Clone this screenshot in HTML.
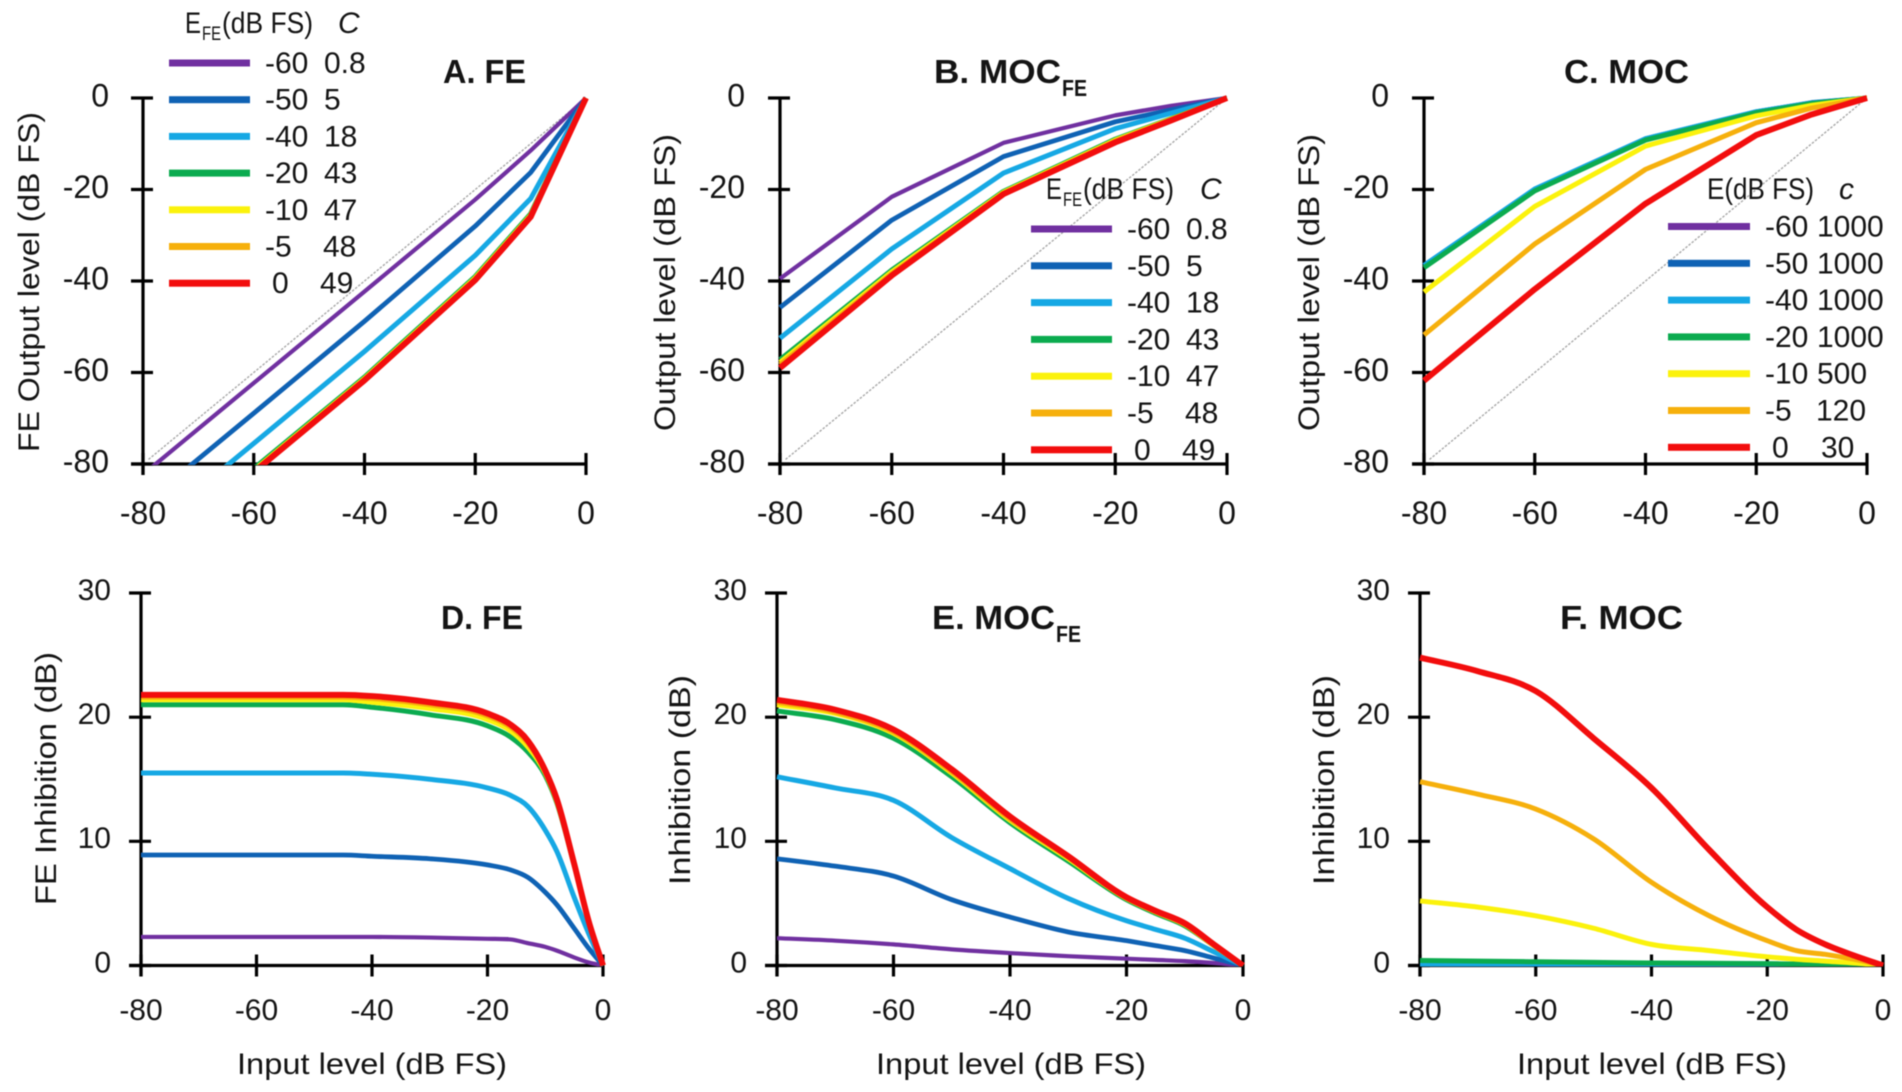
<!DOCTYPE html>
<html lang="en">
<head>
<meta charset="utf-8">
<title>FE and MOC input-output and inhibition curves</title>
<style>
html,body{margin:0;padding:0;background:#fff;}
#figure{display:block;width:1902px;height:1092px;font-family:"Liberation Sans",sans-serif;filter:blur(0.45px);}
text{fill:#141414;}
</style>
</head>
<body>
<svg id="figure" xmlns="http://www.w3.org/2000/svg" width="1902" height="1092" viewBox="0 0 1902 1092"></svg>
<script>
// ---- shared data ----
const outputTicks = [0, -20, -40, -60, -80];
const inhibitionTicks = [30, 20, 10, 0];
const inputTicks = [-80, -60, -40, -20, 0];
const energyLabels = ['-60', '-50', '-40', '-20', '-10', '-5', '0'];
const seriesKeys = ['e-60', 'e-50', 'e-40', 'e-20', 'e-10', 'e-5', 'e-0'];
const feConstants = ['0.8', '5', '18', '43', '47', '48', '49'];
const mocConstants = ['1000', '1000', '1000', '1000', '500', '120', '30'];

// ---- panel A: FE output ----
const inputA = [-80, -60, -40, -20, -10, 0];
const aMinus60 = [-82.3, -62.3, -42.3, -22.2, -11.5, 0];
const aMinus50 = [-88.9, -68.9, -48.8, -28, -16.3, 0];
const aMinus40 = [-95.5, -75.5, -55.4, -34.4, -22, 0];
const aMinus20 = [-101, -81, -61, -39, -25.3, 0];
const aMinus10 = [-101.4, -81.4, -61.3, -39.3, -25.6, 0];
const aMinus5 = [-101.6, -81.6, -61.5, -39.5, -25.8, 0];
const aZero = [-101.8, -81.8, -61.7, -39.8, -26, 0];

// ---- panel B: MOC-FE output ----
const inputB = [-80, -60, -40, -20, -10, 0];
const bMinus60 = [-39.5, -21.6, -9.8, -3.8, -1.7, 0];
const bMinus50 = [-45.8, -26.7, -12.8, -5.2, -2.6, 0];
const bMinus40 = [-52.5, -33, -16.4, -6.7, -3.3, 0];
const bMinus20 = [-57.2, -37.6, -20.4, -9, -4.5, 0];
const bMinus10 = [-57.8, -38, -20.6, -9.2, -4.6, 0];
const bMinus5 = [-58.3, -38.4, -20.8, -9.4, -4.7, 0];
const bZero = [-59, -38.8, -21, -9.7, -4.9, 0];

// ---- panel C: MOC output ----
const inputC = [-80, -60, -40, -20, -10, 0];
const cMinus60 = [-36.6, -19.9, -8.9, -3, -1, 0];
const cMinus50 = [-36.6, -19.9, -8.9, -3, -1, 0];
const cMinus40 = [-36.6, -19.9, -8.9, -3, -1.1, 0];
const cMinus20 = [-37.1, -20.3, -9.2, -3.2, -1.2, 0];
const cMinus10 = [-42.4, -23.7, -10.5, -3.9, -1.6, 0];
const cMinus5 = [-51.8, -31.9, -15.6, -5.4, -2.2, 0];
const cZero = [-61.8, -41.8, -23.1, -8.1, -3.6, 0];

// ---- panel D: FE inhibition ----
const inputD = [-80, -60, -45, -40, -30, -20, -16, -13, -10, -8, -5, -2.5, 0];
const dMinus60 = [2.3, 2.3, 2.3, 2.3, 2.25, 2.15, 2.1, 1.8, 1.5, 1.2, 0.65, 0.25, 0];
const dMinus50 = [8.9, 8.9, 8.9, 8.8, 8.6, 8.1, 7.7, 7.1, 5.9, 4.9, 3, 1.4, 0];
const dMinus40 = [15.5, 15.5, 15.5, 15.4, 15, 14.3, 13.7, 12.8, 10.9, 9.2, 5.5, 2.6, 0];
const dMinus20 = [21, 21, 21, 20.8, 20.2, 19.3, 18.4, 17.2, 15.3, 13.1, 8.1, 3.6, 0];
const dMinus10 = [21.4, 21.4, 21.4, 21.2, 20.7, 19.8, 18.9, 17.6, 15.5, 13.2, 8.1, 3.6, 0];
const dMinus5 = [21.6, 21.6, 21.6, 21.5, 21, 20.1, 19.2, 17.9, 15.6, 13.3, 8.2, 3.6, 0];
const dZero = [21.8, 21.8, 21.8, 21.7, 21.2, 20.3, 19.4, 18.1, 15.7, 13.4, 8.2, 3.6, 0];

// ---- panel E: MOC-FE inhibition ----
const inputE = [-80, -70, -60, -50, -40, -30, -20, -15, -10, -5, 0];
const eMinus60 = [2.2, 2, 1.7, 1.3, 1, 0.75, 0.55, 0.45, 0.35, 0.2, 0];
const eMinus50 = [8.6, 8, 7.2, 5.3, 3.9, 2.7, 2, 1.6, 1.2, 0.6, 0];
const eMinus40 = [15.2, 14.3, 13.3, 10.3, 7.8, 5.4, 3.6, 2.9, 2.2, 1.1, 0];
const eMinus20 = [20.5, 19.8, 18.3, 15.2, 11.5, 8.4, 5.3, 4.2, 3.2, 1.6, 0];
const eMinus10 = [21, 20.3, 18.7, 15.5, 11.7, 8.6, 5.4, 4.3, 3.3, 1.6, 0];
const eMinus5 = [21.2, 20.4, 18.8, 15.6, 11.8, 8.7, 5.4, 4.3, 3.3, 1.6, 0];
const eZero = [21.4, 20.6, 19, 15.8, 12, 8.8, 5.5, 4.4, 3.4, 1.7, 0];

// ---- panel F: MOC inhibition ----
const inputF = [-80, -70, -60, -50, -40, -30, -20, -15, -10, -5, 0];
const fMinus60 = [0.05, 0.05, 0.04, 0.04, 0.03, 0.03, 0.02, 0.02, 0.01, 0.01, 0];
const fMinus50 = [0.06, 0.05, 0.05, 0.04, 0.04, 0.03, 0.03, 0.02, 0.01, 0.01, 0];
const fMinus40 = [0.08, 0.07, 0.06, 0.05, 0.05, 0.04, 0.03, 0.02, 0.02, 0.01, 0];
const fMinus20 = [0.4, 0.35, 0.3, 0.25, 0.2, 0.18, 0.15, 0.12, 0.1, 0.05, 0];
const fMinus10 = [5.2, 4.7, 4, 3, 1.7, 1.2, 0.7, 0.5, 0.35, 0.2, 0];
const fMinus5 = [14.8, 13.8, 12.6, 10.2, 6.7, 4, 2, 1.2, 0.9, 0.5, 0];
const fZero = [24.8, 23.7, 22.1, 18.3, 14.3, 9.3, 4.7, 2.9, 1.7, 0.8, 0];

// ---- styling and layout (not data) ----
const seriesColors = ['#7030a0', '#0f62b4', '#16a8e4', '#0bab4f', '#fbf20c', '#f6b00c', '#f20d0d'];
const seriesStrokes = [4.2, 4.8, 5, 5, 5, 5, 6];
const NS = 'http://www.w3.org/2000/svg';
const svg = document.getElementById('figure');

function make(tag, attrs, parent, content) {
  const el = document.createElementNS(NS, tag);
  for (const k in attrs) el.setAttribute(k, attrs[k]);
  if (content !== undefined) el.textContent = content;
  parent.appendChild(el);
  return el;
}
function scaleLinear(d0, d1, r0, r1) {
  return function (v) { return r0 + (v - d0) / (d1 - d0) * (r1 - r0); };
}
function straightPath(px) {
  return px.map(function (p, i) { return (i ? 'L' : 'M') + p[0].toFixed(2) + ' ' + p[1].toFixed(2); }).join('');
}
function smoothPath(px) {
  const n = px.length, s = [], m = [];
  for (let i = 0; i < n - 1; i++) s.push((px[i + 1][1] - px[i][1]) / (px[i + 1][0] - px[i][0]));
  m[0] = s[0]; m[n - 1] = s[n - 2];
  for (let i = 1; i < n - 1; i++) {
    if (s[i - 1] * s[i] <= 0) { m[i] = 0; continue; }
    const h0 = px[i][0] - px[i - 1][0], h1 = px[i + 1][0] - px[i][0];
    const t = (h1 * s[i - 1] + h0 * s[i]) / (h0 + h1);
    const lim = 3 * Math.min(Math.abs(s[i - 1]), Math.abs(s[i]));
    m[i] = Math.sign(t) * Math.min(Math.abs(t), lim);
  }
  let d = 'M' + px[0][0].toFixed(2) + ' ' + px[0][1].toFixed(2);
  for (let i = 0; i < n - 1; i++) {
    const h = (px[i + 1][0] - px[i][0]) / 3;
    d += 'C' + (px[i][0] + h).toFixed(2) + ' ' + (px[i][1] + m[i] * h).toFixed(2) + ' ' +
      (px[i + 1][0] - h).toFixed(2) + ' ' + (px[i + 1][1] - m[i + 1] * h).toFixed(2) + ' ' +
      px[i + 1][0].toFixed(2) + ' ' + px[i + 1][1].toFixed(2);
  }
  return d;
}

function drawPanel(p) {
  const g = make('g', {}, svg);
  
  

  const x = scaleLinear(-80, 0, p.x0, p.x1);
  const y = scaleLinear(p.dMin, p.dMax, p.y0, p.y1);
  const clipId = 'clip-' + p.id;
  const defs = make('defs', {}, g);
  const clip = make('clipPath', { id: clipId }, defs);
  make('rect', { x: p.x0 - 4, y: p.y1 - 6, width: p.x1 - p.x0 + 12, height: p.y0 - p.y1 + 7 }, clip);

  // axes
  const yAxis = make('line', { x1: p.x0, x2: p.x0, y1: p.y1, y2: p.y0 + 11, stroke: '#000', 'stroke-width': 3.2 }, g);
  
  
  const xAxis = make('line', { x1: p.x0 - 12, x2: p.x1, y1: p.y0, y2: p.y0, stroke: '#000', 'stroke-width': 3.2 }, g);
  
  

  p.yTicks.forEach(function (v) {
    const t = make('line', { x1: p.x0 - 12, x2: p.x0 + 10, y1: y(v), y2: y(v), stroke: '#000', 'stroke-width': 3.2 }, g);
    
    
    const lbl = make('text', { x: p.x0 + p.yLabelDx, y: y(v) + p.tickFont * 0.33 - (p.isTop ? 2 : 3), 'text-anchor': 'end', 'font-size': p.tickFont }, g, String(v));
    
    
  });
  inputTicks.forEach(function (v) {
    const t = make('line', { x1: x(v), x2: x(v), y1: p.y0 - 11, y2: p.y0 + 11, stroke: '#000', 'stroke-width': 3.2 }, g);
    
    
    const lbl = make('text', { x: x(v), y: p.xLabelY, 'text-anchor': 'middle', 'font-size': p.tickFont }, g, String(v));
    
    
  });

  // identity reference line
  if (p.isTop) {
    const ref = make('line', { x1: x(-79), y1: y(-79), x2: x(0), y2: y(0), stroke: '#a8a8a8', 'stroke-width': 1.4, 'stroke-dasharray': '2.5 1.5' }, g);
    
    
  }

  // series
  const seriesGroup = make('g', { 'clip-path': 'url(#' + clipId + ')' }, g);
  
  
  p.series.forEach(function (vals, i) {
    const px = vals.map(function (v, j) { return [x(p.input[j]), y(v)]; });
    const line = make('path', {
      d: p.smooth ? smoothPath(px) : straightPath(px),
      fill: 'none', stroke: seriesColors[i], 'stroke-width': seriesStrokes[i], 'stroke-linejoin': 'round'
    }, seriesGroup);
    
    
  });

  // title
  const title = make('text', { x: p.titleX, y: p.titleY, 'font-size': 33, 'font-weight': 700, textLength: p.titleW, lengthAdjust: 'spacingAndGlyphs' }, g, p.title);
  
  
  if (p.titleSub) {
    const sub = make('text', { x: p.titleX + p.titleW + 1, y: p.titleY + 13, 'font-size': 23, 'font-weight': 700, textLength: 25, lengthAdjust: 'spacingAndGlyphs' }, g, 'FE');
    
    
  }

  // axis titles
  const yMid = (p.yTitleA + p.yTitleB) / 2;
  const yt = make('text', {
    x: 0, y: 0, 'text-anchor': 'middle', 'font-size': 30,
    transform: 'translate(' + p.yTitleX + ' ' + yMid + ') rotate(-90)',
    textLength: p.yTitleB - p.yTitleA, lengthAdjust: 'spacingAndGlyphs'
  }, g, p.yTitle);
  
  
  if (p.xTitleA) {
    const xt = make('text', { x: p.xTitleA, y: 1074, 'font-size': 30, textLength: p.xTitleB - p.xTitleA, lengthAdjust: 'spacingAndGlyphs' }, g, 'Input level (dB FS)');
    
    
  }

  // legend
  if (p.legend) drawLegend(g, p.legend);
}

function drawLegend(parent, L) {
  const g = make('g', {}, parent);
  
  
  const hx = L.headX;
  const e = make('text', { x: hx, y: L.headY + 9, 'font-size': 30 }, g, L.sub ? 'E' : 'E(dB FS)');
  
  
  if (L.sub) {
    e.setAttribute('textLength', 16);
    e.setAttribute('lengthAdjust', 'spacingAndGlyphs');
    const s = make('text', { x: hx + 17, y: L.headY + 16, 'font-size': 19, textLength: 19, lengthAdjust: 'spacingAndGlyphs' }, g, 'FE');
    
    
    const r = make('text', { x: hx + 37, y: L.headY + 9, 'font-size': 30, textLength: 91, lengthAdjust: 'spacingAndGlyphs' }, g, '(dB FS)');
    
    
  } else {
    e.setAttribute('textLength', 107);
    e.setAttribute('lengthAdjust', 'spacingAndGlyphs');
  }
  const c = make('text', { x: L.cHeadX, y: L.headY + 9, 'font-size': 30, 'font-style': 'italic' }, g, L.cName);
  
  
  energyLabels.forEach(function (lab, i) {
    const ky = L.y0 + i * L.dy;
    const key = make('rect', { x: L.keyX, y: ky - 3.5, width: L.keyW, height: 7, fill: seriesColors[i] }, g);
    
    
    const shift = lab === '0' ? 7 : 0;
    const t1 = make('text', { x: L.col1 + shift, y: ky + 10, 'font-size': 30 }, g, lab);
    
    
    const t2 = make('text', { x: L.col2 + (lab === '0' ? -4 : lab === '-5' ? -1 : 0) + (L.cName === 'c' && lab === '0' ? 8 : 0), y: ky + 10, 'font-size': 30 }, g, L.constants[i]);
    
    
  });
}

const panels = [
  { id: 'a-fe', isTop: true, x0: 143, x1: 586, y0: 464, y1: 98, dMin: -80, dMax: 0, input: inputA,
    series: [aMinus60, aMinus50, aMinus40, aMinus20, aMinus10, aMinus5, aZero], smooth: false,
    yTicks: outputTicks, yLabelDx: -34, tickFont: 32, xLabelY: 524,
    title: 'A. FE', titleX: 443, titleY: 83, titleW: 83, titleSub: false,
    yTitle: 'FE Output level (dB FS)', yTitleX: 39, yTitleA: 112, yTitleB: 452,
    legend: { sub: true, headX: 185, headY: 24, cHeadX: 338, cName: 'C', keyX: 169, keyW: 81, y0: 63, dy: 36.7, col1: 265, col2: 324, constants: feConstants } },
  { id: 'b-moc-fe', isTop: true, x0: 780, x1: 1227, y0: 464, y1: 98, dMin: -80, dMax: 0, input: inputB,
    series: [bMinus60, bMinus50, bMinus40, bMinus20, bMinus10, bMinus5, bZero], smooth: false,
    yTicks: outputTicks, yLabelDx: -35, tickFont: 32, xLabelY: 524,
    title: 'B. MOC', titleX: 934, titleY: 83, titleW: 127, titleSub: true,
    yTitle: 'Output level (dB FS)', yTitleX: 675, yTitleA: 134, yTitleB: 431,
    legend: { sub: true, headX: 1046, headY: 190, cHeadX: 1200, cName: 'C', keyX: 1031, keyW: 81, y0: 229, dy: 36.8, col1: 1127, col2: 1186, constants: feConstants } },
  { id: 'c-moc', isTop: true, x0: 1424, x1: 1867, y0: 464, y1: 98, dMin: -80, dMax: 0, input: inputC,
    series: [cMinus60, cMinus50, cMinus40, cMinus20, cMinus10, cMinus5, cZero], smooth: false,
    yTicks: outputTicks, yLabelDx: -35, tickFont: 32, xLabelY: 524,
    title: 'C. MOC', titleX: 1564, titleY: 83, titleW: 125, titleSub: false,
    yTitle: 'Output level (dB FS)', yTitleX: 1319, yTitleA: 134, yTitleB: 431,
    legend: { sub: false, headX: 1707, headY: 190, cHeadX: 1839, cName: 'c', keyX: 1668, keyW: 82, y0: 226.5, dy: 36.8, col1: 1765, col2: 1817, constants: mocConstants } },
  { id: 'd-fe', isTop: false, x0: 141, x1: 603, y0: 965.5, y1: 593, dMin: 0, dMax: 30, input: inputD,
    series: [dMinus60, dMinus50, dMinus40, dMinus20, dMinus10, dMinus5, dZero], smooth: true,
    yTicks: inhibitionTicks, yLabelDx: -30, tickFont: 30, xLabelY: 1020,
    title: 'D. FE', titleX: 441, titleY: 629, titleW: 82, titleSub: false,
    yTitle: 'FE Inhibition (dB)', yTitleX: 56, yTitleA: 652, yTitleB: 905, xTitleA: 237, xTitleB: 507 },
  { id: 'e-moc-fe', isTop: false, x0: 777, x1: 1243, y0: 965.5, y1: 593, dMin: 0, dMax: 30, input: inputE,
    series: [eMinus60, eMinus50, eMinus40, eMinus20, eMinus10, eMinus5, eZero], smooth: true,
    yTicks: inhibitionTicks, yLabelDx: -30, tickFont: 30, xLabelY: 1020,
    title: 'E. MOC', titleX: 932, titleY: 629, titleW: 123, titleSub: true,
    yTitle: 'Inhibition (dB)', yTitleX: 690, yTitleA: 675, yTitleB: 885, xTitleA: 876, xTitleB: 1146 },
  { id: 'f-moc', isTop: false, x0: 1420, x1: 1883, y0: 965.5, y1: 593, dMin: 0, dMax: 30, input: inputF,
    series: [fMinus60, fMinus50, fMinus40, fMinus20, fMinus10, fMinus5, fZero], smooth: true,
    yTicks: inhibitionTicks, yLabelDx: -30, tickFont: 30, xLabelY: 1020,
    title: 'F. MOC', titleX: 1560, titleY: 629, titleW: 123, titleSub: false,
    yTitle: 'Inhibition (dB)', yTitleX: 1334, yTitleA: 675, yTitleB: 885, xTitleA: 1517, xTitleB: 1787 }
];
panels.forEach(drawPanel);

// the last tick label of panel A is cropped in the source figure
const cropMask = make('rect', { x: 594, y: 490, width: 20, height: 46, fill: '#fff' }, svg);


</script>
</body>
</html>
